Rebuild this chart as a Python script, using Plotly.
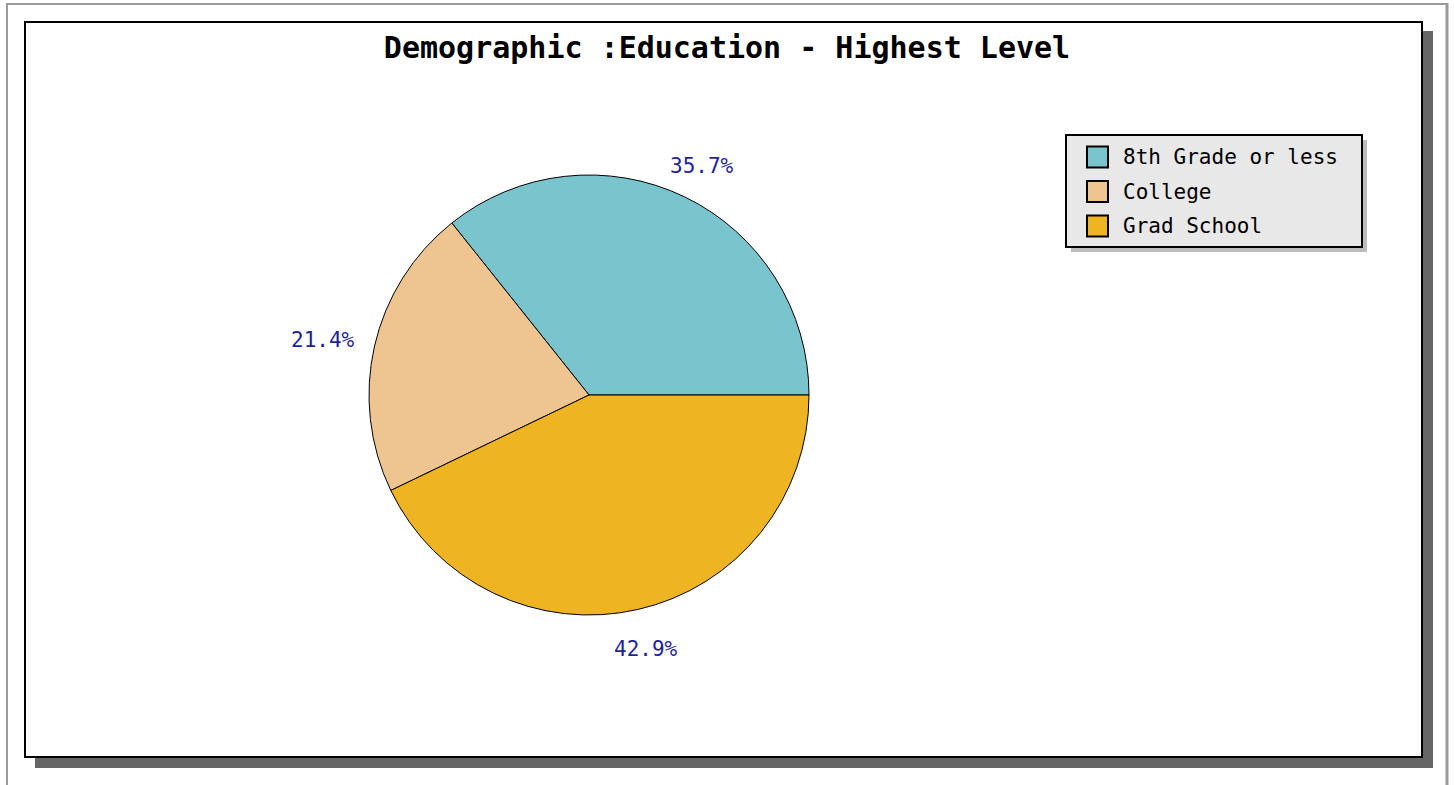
import math
import plotly.graph_objects as go

# ---- data ----
categories = ["8th Grade or less", "College", "Grad School"]
values = [5, 3, 6]
colors = ["#7AC5CD", "#EEC591", "#EEB422"]
title_text = "Demographic :Education - Highest Level"

W, H = 1454, 785


def px(x):
    return x / W


def py(y):
    return 1 - y / H


# pie geometry (pixels)
cx, cy, R = 589, 395, 220
total = sum(values)

fig = go.Figure()
fig.add_trace(go.Pie(
    labels=categories,
    values=values,
    sort=False,
    direction="counterclockwise",
    # first slice starts at 3 o'clock and runs counter-clockwise
    rotation=90 - 360 * values[0] / total,
    marker=dict(colors=colors, line=dict(color="#000000", width=1)),
    textinfo="none",
    hoverinfo="label+percent",
    domain=dict(x=[px(cx - R), px(cx + R)], y=[py(cy + R), py(cy - R)]),
    showlegend=False,
))

# percentage labels placed outside the pie, derived from the data
annotations = []
start = 0.0
tw, th = 70, 20
for v in values:
    frac = v / total
    mid = math.radians((start + frac / 2) * 360)
    c, s = math.cos(mid), math.sin(mid)
    r = 237 + abs(tw / 2 * c) + abs(th / 2 * s)
    lx, ly = cx + r * c, cy - r * s
    annotations.append(dict(
        x=px(lx), y=py(ly), xref="paper", yref="paper",
        text=f"{frac * 100:.1f}%", showarrow=False,
        xanchor="center", yanchor="middle", yshift=-6,
        font=dict(family="DejaVu Sans Mono", size=21, color="#1f1f9e"),
    ))
    start += frac

shapes = [
    # outer gray page frame
    dict(type="line", x0=px(6), x1=px(1448), y0=py(4), y1=py(4),
         line=dict(color="#999999", width=2), layer="below"),
    dict(type="line", x0=px(7), x1=px(7), y0=py(3), y1=py(785),
         line=dict(color="#999999", width=2), layer="below"),
    dict(type="line", x0=px(1447), x1=px(1447), y0=py(3), y1=py(785),
         line=dict(color="#999999", width=3), layer="below"),
    # chart box shadow
    dict(type="rect", x0=px(35), x1=px(1433), y0=py(768), y1=py(31),
         fillcolor="#666666", line=dict(width=0), layer="below"),
    # chart box
    dict(type="rect", x0=px(25), x1=px(1422), y0=py(757), y1=py(22),
         fillcolor="#ffffff", line=dict(color="#000000", width=2), layer="below"),
    # legend shadow
    dict(type="rect", x0=px(1071), x1=px(1367), y0=py(252), y1=py(140),
         fillcolor="#bdbdbd", line=dict(width=0), layer="above"),
    # legend box
    dict(type="rect", x0=px(1066), x1=px(1362), y0=py(247), y1=py(135),
         fillcolor="#e8e8e8", line=dict(color="#000000", width=2), layer="above"),
]

# legend entries
leg_x0, leg_y0, leg_dy, sw = 1087, 157, 34.5, 21
for i, (name, col) in enumerate(zip(categories, colors)):
    yc = leg_y0 + i * leg_dy
    shapes.append(dict(
        type="rect", x0=px(leg_x0), x1=px(leg_x0 + sw),
        y0=py(yc + sw / 2), y1=py(yc - sw / 2),
        fillcolor=col, line=dict(color="#000000", width=2), layer="above",
    ))
    annotations.append(dict(
        x=px(1121), y=py(yc), xref="paper", yref="paper",
        text=name, showarrow=False, xanchor="left", yanchor="middle",
        font=dict(family="DejaVu Sans Mono", size=21, color="#000000"),
    ))

fig.update_layout(
    width=W, height=H,
    margin=dict(l=0, r=0, t=0, b=0),
    paper_bgcolor="#ffffff",
    plot_bgcolor="#ffffff",
    title=dict(
        text=title_text, x=0.5, xanchor="center",
        y=py(47), yref="paper", yanchor="middle",
        font=dict(family="DejaVu Sans Mono", size=30, color="#000000", weight="bold"),
    ),
    showlegend=False,
    shapes=shapes,
    annotations=annotations,
)

fig.write_html("out.html", config={"displayModeBar": False},
               post_script="document.body.style.margin='0';")
